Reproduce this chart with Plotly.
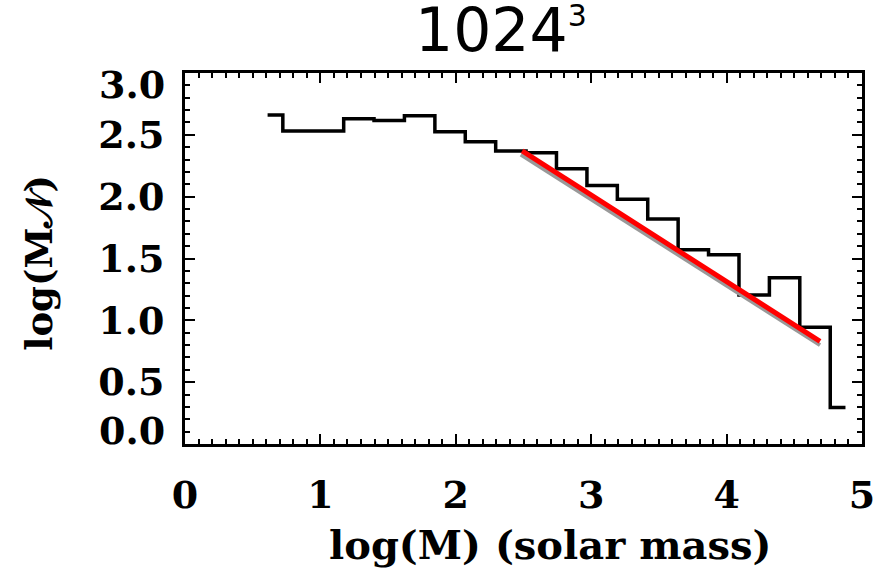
import plotly.graph_objects as go

# Mass function histogram: bin centres (log M) and log(M N) per bin
bin_centres = [0.61, 0.835, 1.06, 1.284, 1.508, 1.733, 1.958, 2.182, 2.407, 2.631,
               2.856, 3.081, 3.305, 3.53, 3.754, 3.979, 4.204, 4.428, 4.653, 4.878]
log_mn = [2.66, 2.53, 2.53, 2.63, 2.615, 2.655, 2.525, 2.445, 2.37, 2.355,
          2.225, 2.09, 1.98, 1.82, 1.57, 1.53, 1.205, 1.345, 0.945, 0.295]

# Power-law fits over the high-mass end
fit_x = [2.49, 4.69]
fit_y = [2.37, 0.83]
fit2_x = [2.48, 4.69]
fit2_y = [2.34, 0.80]

x_ticks = [0, 1, 2, 3, 4, 5]
y_ticks = [0.0, 0.5, 1.0, 1.5, 2.0, 2.5, 3.0]
y_ticktext = ["", "0.5", "1.0", "1.5", "2.0", "2.5", ""]

serif = "DejaVu Serif"

fig = go.Figure()
fig.add_trace(go.Scatter(x=bin_centres, y=log_mn, mode="lines",
                         line=dict(color="black", width=3.5, shape="hvh"),
                         showlegend=False, hoverinfo="skip"))
fig.add_trace(go.Scatter(x=fit2_x, y=fit2_y, mode="lines",
                         line=dict(color="#999999", width=4),
                         showlegend=False, hoverinfo="skip"))
fig.add_trace(go.Scatter(x=fit_x, y=fit_y, mode="lines",
                         line=dict(color="#ff0000", width=5),
                         showlegend=False, hoverinfo="skip"))

tick_font = dict(family=serif, size=38, color="black", weight="bold")
axis_common = dict(
    showline=True, linewidth=3, linecolor="black", mirror="allticks",
    ticks="inside", ticklen=10, tickwidth=2, tickcolor="black",
    showgrid=False, zeroline=False, tickfont=tick_font,
)

fig.update_xaxes(range=[0, 5], tickvals=x_ticks, ticklabelstandoff=15,
                 minor=dict(ticks="inside", ticklen=5, tickwidth=2, dtick=0.1,
                            tickcolor="black", showgrid=False),
                 **axis_common)
fig.update_yaxes(range=[0, 3], tickvals=y_ticks, ticktext=y_ticktext,
                 ticklabelstandoff=10,
                 minor=dict(ticks="inside", ticklen=5, tickwidth=2, dtick=0.1,
                            tickcolor="black", showgrid=False),
                 **axis_common)

annotations = [
    # end labels of the y axis sit just inside the frame
    dict(text="3.0", xref="paper", yref="paper", x=-0.027, y=0.97,
         xanchor="right", yanchor="middle", showarrow=False, font=tick_font),
    dict(text="0.0", xref="paper", yref="paper", x=-0.027, y=0.037,
         xanchor="right", yanchor="middle", showarrow=False, font=tick_font),
    # axis titles
    dict(text="log(M) (solar mass)", xref="paper", yref="paper", x=0.539, y=-0.27,
         xanchor="center", yanchor="middle", showarrow=False,
         font=dict(family=serif, size=40, color="black", weight="bold")),
    dict(text="log(M𝒩)", xref="paper", yref="paper", x=-0.215, y=0.49,
         xanchor="center", yanchor="middle", showarrow=False, textangle=-90,
         font=dict(family=serif, size=37, color="black", weight="bold")),
    # title
    dict(text="1024<sup><span style='font-size:30px'>3</span></sup>",
         xref="paper", yref="paper", x=0.337, y=1.0, xanchor="left", yanchor="bottom",
         showarrow=False, yshift=6,
         font=dict(family="DejaVu Sans", size=60, color="black")),
]

fig.update_layout(
    width=887, height=577,
    margin=dict(l=185, r=25, t=73, b=133),
    paper_bgcolor="white", plot_bgcolor="white",
    annotations=annotations,
)

fig.write_html("out.html")
